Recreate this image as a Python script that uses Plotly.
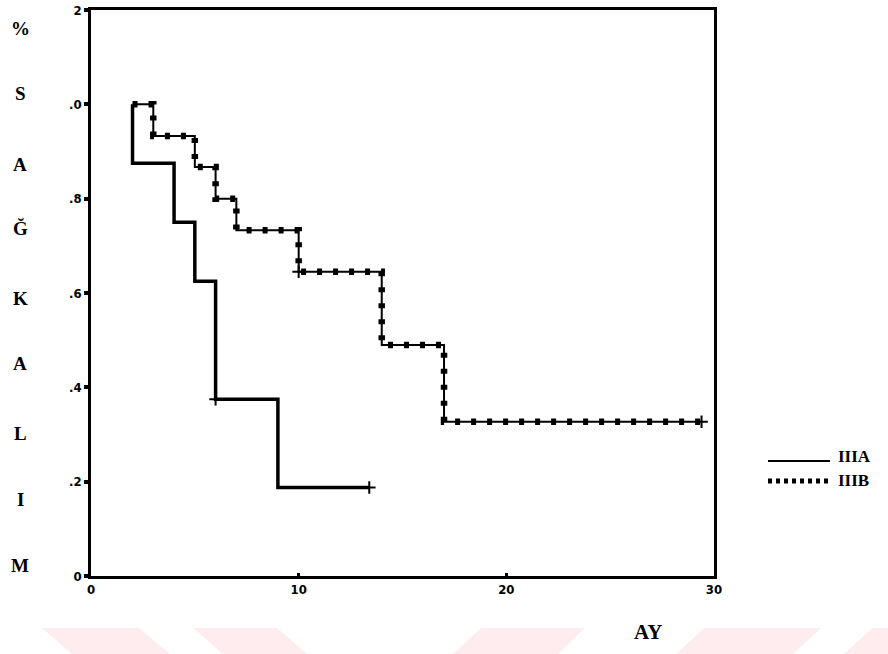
import plotly.graph_objects as go

# Kaplan-Meier survival by stage (months)
iiia_time = [2, 2, 4, 5, 6, 9, 13.4]
iiia_surv = [1.0, 0.875, 0.75, 0.625, 0.375, 0.1875, 0.1875]

iiib_time = [2, 3, 5, 6, 7, 10, 14, 17, 29.4]
iiib_surv = [1.0, 0.933, 0.867, 0.8, 0.733, 0.645, 0.49, 0.327, 0.327]

# censored observations
iiia_cens_time = [6, 13.4]
iiia_cens_surv = [0.375, 0.1875]
iiib_cens_time = [10, 29.4]
iiib_cens_surv = [0.645, 0.327]

series_names = ["IIIA", "IIIB"]

y_ticks = [0, 0.2, 0.4, 0.6, 0.8, 1.0, 1.2]
y_ticktext = ["0", ".2", ".4", ".6", ".8", ".0", "2"]
x_ticks = [0, 10, 20, 30]
x_ticktext = ["0", "10", "20", "30"]

side_letters = ["%", "S", "A", "Ğ", "K", "A", "L", "I", "M"]
side_letter_px = [28, 93, 165, 229, 298, 363, 433, 500, 565]

W, H = 888, 654
L, R, T, B = 91, 174, 10, 78
PW, PH = W - L - R, H - T - B


def px_x(px):
    return (px - L) / PW


def px_y(py):
    return (H - B - py) / PH


IIIB_DASH = "5px,11px"

fig = go.Figure()

fig.add_trace(go.Scatter(
    x=iiia_time, y=iiia_surv, mode="lines", line_shape="hv",
    line=dict(color="black", width=3.5), name=series_names[0],
))
fig.add_trace(go.Scatter(
    x=iiib_time, y=iiib_surv, mode="lines", line_shape="hv",
    line=dict(color="black", width=2), hoverinfo="skip", name=series_names[1],
))
fig.add_trace(go.Scatter(
    x=iiib_time, y=iiib_surv, mode="lines", line_shape="hv",
    line=dict(color="black", width=6.5, dash=IIIB_DASH), name=series_names[1],
))
fig.add_trace(go.Scatter(
    x=iiia_cens_time, y=iiia_cens_surv, mode="markers", name=series_names[0],
    marker=dict(symbol="cross-thin", size=9, line=dict(color="black", width=2)),
))
fig.add_trace(go.Scatter(
    x=iiib_cens_time, y=iiib_cens_surv, mode="markers", name=series_names[1],
    marker=dict(symbol="cross-thin", size=9, line=dict(color="black", width=2)),
))

tick_font = dict(family="DejaVu Sans Condensed, DejaVu Sans", size=13,
                 color="black", weight="bold")
serif = "Liberation Serif, Times New Roman, serif"

annotations = []
for ch, py in zip(side_letters, side_letter_px):
    annotations.append(dict(
        text=ch, xref="paper", yref="paper", x=px_x(20), y=px_y(py),
        showarrow=False, xanchor="center", yanchor="middle",
        font=dict(family=serif, size=19, color="black", weight="bold"),
    ))
annotations.append(dict(
    text="AY", xref="paper", yref="paper", x=px_x(648), y=px_y(632),
    showarrow=False, xanchor="center", yanchor="middle",
    font=dict(family=serif, size=21, color="black", weight="bold"),
))

shapes = []

# key at the right: line sample followed by the stage name
key_rows = [(series_names[0], 461, 456, dict(color="black", width=2.2)),
            (series_names[1], 481, 480, dict(color="black", width=5, dash="4px,4px"))]
for name, line_py, text_py, line_style in key_rows:
    shapes.append(dict(type="line", xref="paper", yref="paper",
                       x0=px_x(768), x1=px_x(830), y0=px_y(line_py), y1=px_y(line_py),
                       line=line_style))
    annotations.append(dict(
        text=name, xref="paper", yref="paper", x=px_x(836), y=px_y(text_py),
        showarrow=False, xanchor="left", yanchor="middle",
        font=dict(family=serif, size=17, color="black", weight="bold"),
    ))

# faint pink band along the bottom edge
band = [
    ((42, 139), (72, 170)),
    ((193, 277), (223, 307)),
    ((481, 585), (453, 558)),
    ((704, 821), (676, 793)),
    ((872, 960), (844, 930)),
]
for (t0, t1), (b0, b1) in band:
    yt, yb = px_y(628), px_y(654)
    path = (f"M {px_x(t0)},{yt} L {px_x(t1)},{yt} "
            f"L {px_x(b1)},{yb} L {px_x(b0)},{yb} Z")
    shapes.append(dict(type="path", path=path, xref="paper", yref="paper",
                       fillcolor="#feecef", line=dict(width=0), layer="below"))

fig.update_layout(
    width=W, height=H,
    margin=dict(l=L, r=R, t=T, b=B, autoexpand=False),
    paper_bgcolor="white", plot_bgcolor="white",
    showlegend=False,
    xaxis=dict(
        range=[0, 30], tickvals=x_ticks, ticktext=x_ticktext, automargin=False,
        showgrid=False, zeroline=False, showline=True, mirror=True,
        linecolor="black", linewidth=2.5, ticks="inside", ticklen=3,
        tickwidth=3, tickcolor="black", tickfont=tick_font,
    ),
    yaxis=dict(
        range=[0, 1.2], tickvals=y_ticks, ticktext=y_ticktext, automargin=False,
        showgrid=False, zeroline=False, showline=True, mirror=True,
        linecolor="black", linewidth=2.5, ticks="outside", ticklen=4,
        tickwidth=4, tickcolor="black", tickfont=tick_font,
    ),
    annotations=annotations,
    shapes=shapes,
)

fig.write_html("out.html")
